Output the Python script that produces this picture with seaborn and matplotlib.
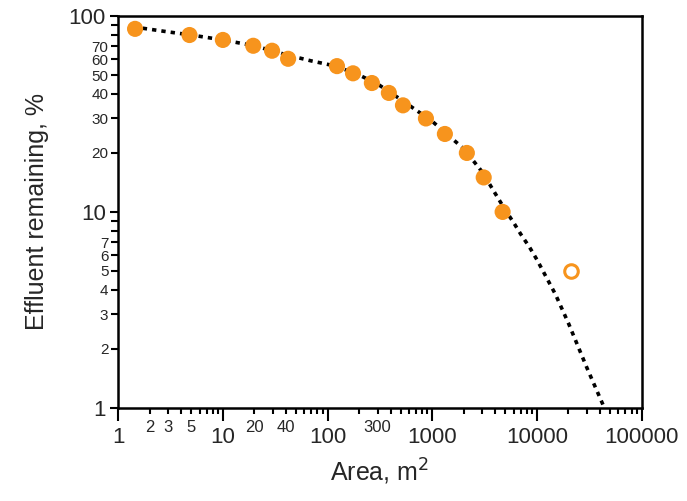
import numpy as np
import pandas as pd
import seaborn as sns
import matplotlib.pyplot as plt
from matplotlib.ticker import FixedLocator

# measured points (filled)
area = [1.45, 4.8, 10, 19.5, 29.5, 42, 123, 175, 265, 385, 525, 870, 1320, 2140, 3100, 4700]
remaining = [86, 80, 75.5, 70.5, 66.5, 60.5, 55.5, 51, 45.5, 40.5, 35, 30, 25, 20, 15, 10]

# outlier (open circle)
area_open = [21000]
remaining_open = [5]

# fitted curve
fit_area = [1.4, 3, 5, 10, 20, 40, 70, 120, 200, 300, 500, 1000, 2000, 3000,
            4000, 5000, 6000, 7000, 8500, 10000, 15000, 20000, 30000, 44000]
fit_remaining = [88, 83, 80, 75.5, 70.5, 63.5, 59, 55.5, 50, 45, 37.5, 29, 21, 16,
                 12.4, 10.2, 8.8, 7.7, 6.6, 5.7, 3.8, 2.7, 1.6, 1.0]

x_major = [1, 10, 100, 1000, 10000, 100000]
x_small_labels = {2: "2", 3: "3", 5: "5", 20: "20", 40: "40", 300: "300"}
y_major = [1, 10, 100]
y_small_labels = [2, 3, 4, 5, 6, 7, 20, 30, 40, 50, 60, 70]

sns.set_style("white")
plt.rcParams['font.family'] = ['Liberation Sans', 'DejaVu Sans']

fig = plt.figure(figsize=(6.87, 5.01), dpi=100)
ax = fig.add_axes([0.172, 0.186, 0.762, 0.782])

fit_df = pd.DataFrame({'area': fit_area, 'remaining': fit_remaining})
pts_df = pd.DataFrame({'area': area, 'remaining': remaining})

sns.lineplot(data=fit_df, x='area', y='remaining', ax=ax, color='black',
             linewidth=2.6, estimator=None, sort=False, zorder=2)
ax.lines[-1].set_linestyle((0, (1.2, 1.4)))
sns.scatterplot(data=pts_df, x='area', y='remaining', ax=ax, color='#F7941D',
                s=135, edgecolor='none', zorder=3)
ax.scatter(area_open, remaining_open, s=95, facecolor='white',
           edgecolor='#F7941D', linewidth=2.2, zorder=3)

ax.set_xscale('log')
ax.set_yscale('log')
ax.set_xlim(1, 100000)
ax.set_ylim(1, 100)

# x ticks
ax.xaxis.set_major_locator(FixedLocator(x_major))
ax.set_xticklabels([str(v) for v in x_major], fontsize=16)
x_minor = [m * d for d in x_major[:-1] for m in range(2, 10)]
ax.xaxis.set_minor_locator(FixedLocator(x_minor))
ax.set_xticklabels([x_small_labels.get(int(round(v)), "") for v in x_minor],
                   minor=True, fontsize=12)

# y ticks
ax.yaxis.set_major_locator(FixedLocator(y_major))
ax.set_yticklabels([str(v) for v in y_major], fontsize=16)
y_minor = [m * d for d in y_major[:-1] for m in range(2, 10)]
ax.yaxis.set_minor_locator(FixedLocator(y_minor))
ax.set_yticklabels([str(int(round(v))) if int(round(v)) in y_small_labels else ""
                    for v in y_minor], minor=True, fontsize=11)

ax.tick_params(axis='both', which='both', direction='out', color='black',
               width=1.5, left=True, bottom=True)
ax.tick_params(axis='x', which='major', length=9, pad=5)
ax.tick_params(axis='x', which='minor', length=4, pad=5)
ax.tick_params(axis='y', which='major', length=6, pad=3)
ax.tick_params(axis='y', which='minor', length=5, pad=2)

for s in ax.spines.values():
    s.set_color('black')
    s.set_linewidth(1.8)

ax.set_xlabel('Area, m$^2$', fontsize=18, labelpad=6)
ax.set_ylabel('Effluent remaining, %', fontsize=18, labelpad=14)

fig.savefig('out.png', dpi=100)
